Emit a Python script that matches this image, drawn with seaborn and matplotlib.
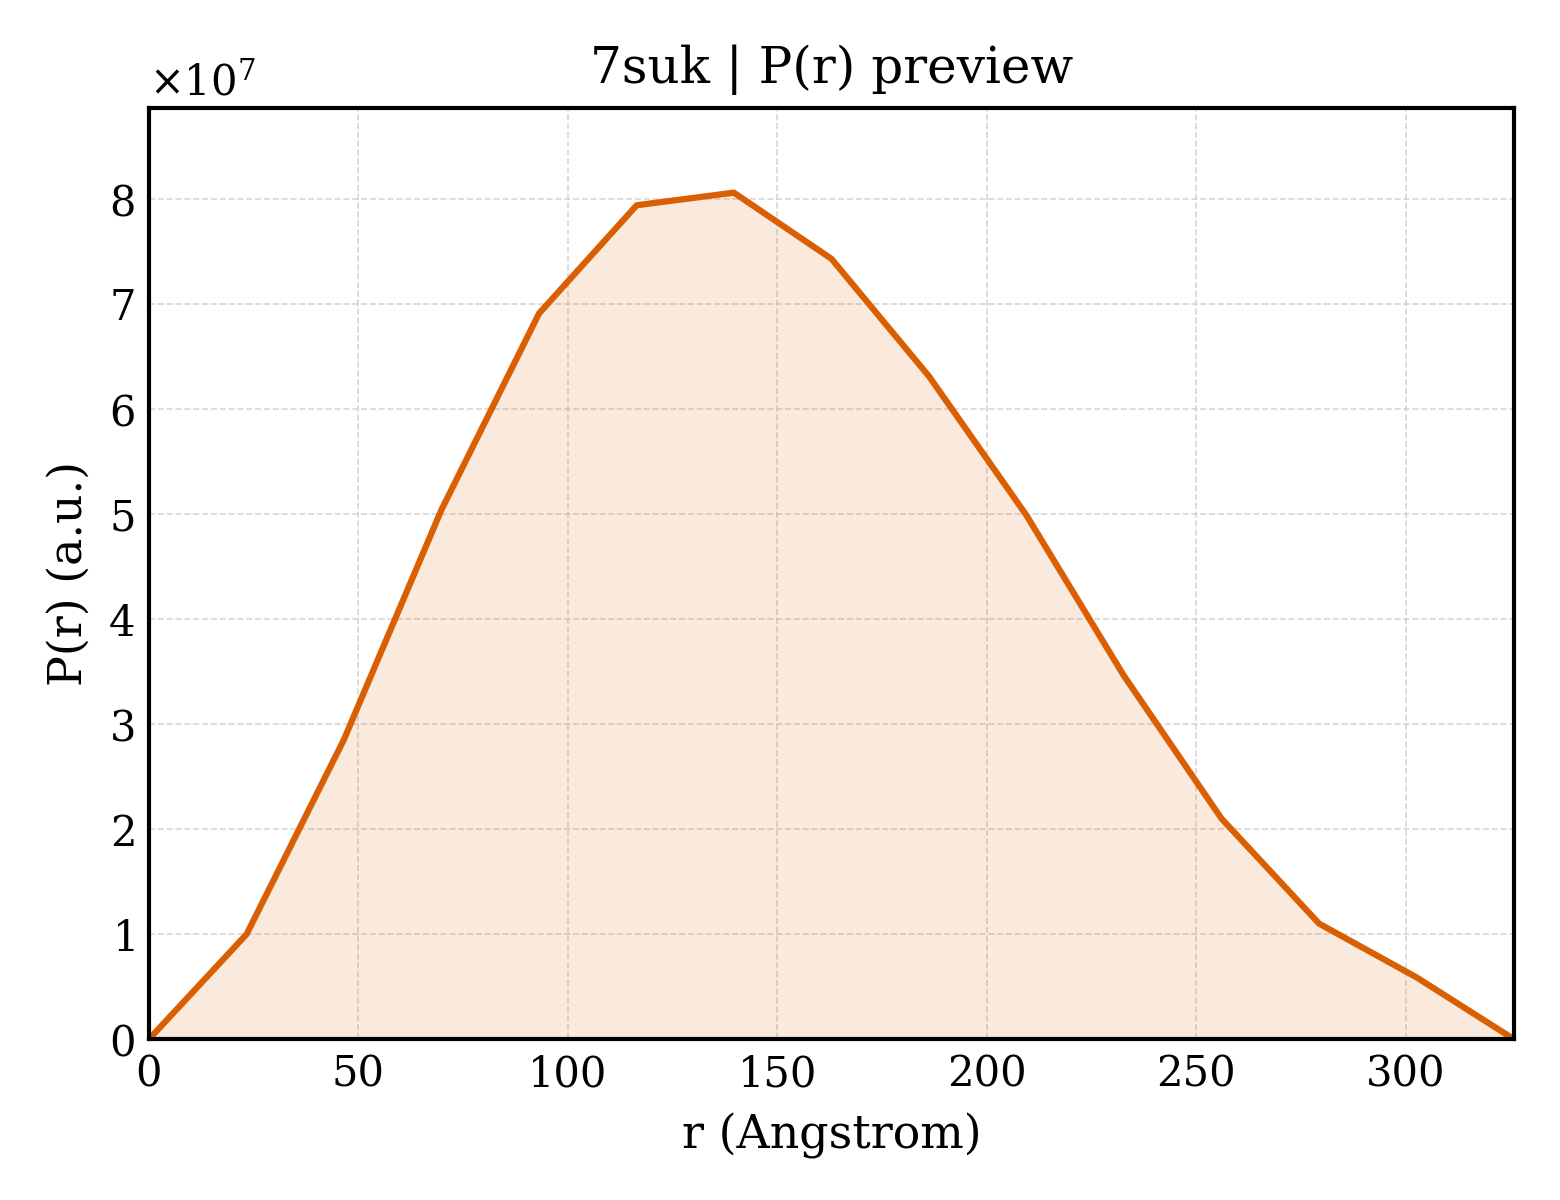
import numpy as np
import pandas as pd
import matplotlib
matplotlib.use("Agg")
import matplotlib.pyplot as plt
import seaborn as sns

# P(r) curve
r_vals = [0.0, 23.3, 46.5, 69.8, 93.1, 116.4, 139.6, 162.9, 186.2, 209.4, 232.7, 256.0, 279.3, 302.5, 325.8]
p_vals = [0.0, 1.00e7, 2.85e7, 5.04e7, 6.91e7, 7.94e7, 8.06e7, 7.43e7, 6.31e7, 4.99e7,
          3.46e7, 2.10e7, 1.10e7, 0.59e7, 0.0]
line_color = "#D95F02"

df = pd.DataFrame({"r": r_vals, "P": p_vals})

sns.set_theme(style="white")
plt.rcParams.update({
    "font.family": ["DejaVu Serif"],
    "mathtext.fontset": "dejavuserif",
    "font.size": 11,
    "text.color": "black",
    "axes.labelcolor": "black",
    "axes.edgecolor": "black",
    "axes.linewidth": 1.0,
    "xtick.direction": "in",
    "ytick.direction": "in",
    "xtick.color": "black",
    "ytick.color": "black",
})

fig, ax = plt.subplots(figsize=(5.2, 4.0), dpi=300)
fig.subplots_adjust(left=0.0955, right=0.9705, top=0.91, bottom=0.134)

ax.fill_between(df["r"], df["P"], 0, color=line_color, alpha=0.13, linewidth=0)
sns.lineplot(data=df, x="r", y="P", ax=ax, color=line_color, linewidth=1.5)

ax.set_xlim(0, max(r_vals))
ax.set_ylim(0, max(p_vals) * 1.1)
ax.grid(True, linestyle="--", linewidth=0.4, color="#cccccc", alpha=0.8)

ax.ticklabel_format(axis="y", style="sci", scilimits=(0, 0), useMathText=True)
ax.tick_params(axis="both", which="major", length=4, width=0.8, labelsize=10,
               colors="black", top=False, right=False)
ax.yaxis.get_offset_text().set_fontsize(10)

ax.set_xlabel("r (Angstrom)", fontsize=11, color="black")
ax.set_ylabel("P(r) (a.u.)", fontsize=11, color="black")
ax.set_title("7suk | P(r) preview", fontsize=12, color="black")

fig.savefig("out.png", dpi=300)
